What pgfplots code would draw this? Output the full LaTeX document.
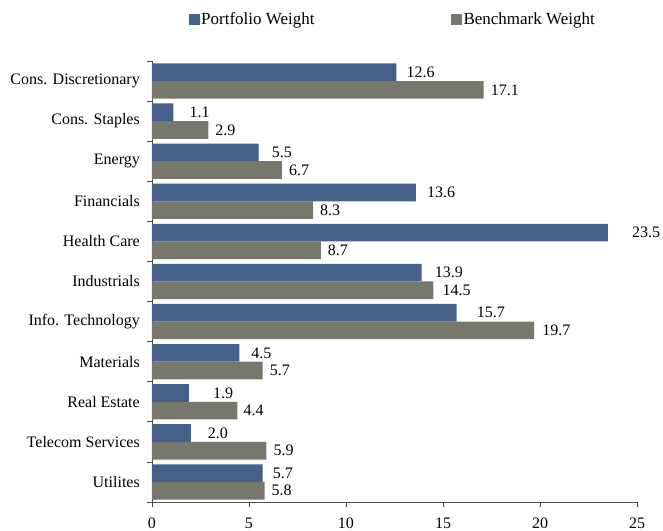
\documentclass[border=0pt]{standalone}
\usepackage{fontspec}
\setmainfont{Liberation Serif}
\usepackage{pgfplots}
\usepackage{pgfplotstable}
\pgfplotsset{compat=1.18}

\definecolor{portblue}{RGB}{68,97,138}
\definecolor{benchgray}{RGB}{119,119,107}

% y: category position (top = 10); poff/boff: label gap in bp
\pgfplotstableread{
y  port poff bench boff
10 12.6 10   17.1  7
9  1.1  16   2.9   7
8  5.5  13   6.7   7
7  13.6 11   8.3   7
6  23.5 24   8.7   7
5  13.9 13   14.5  9
4  15.7 20   19.7  8
3  4.5  12   5.7   7
2  1.9  24   4.4   6
1  2.0  17   5.9   7
0  5.7  10   5.8   7
}\weights

\begin{document}
\fontsize{16bp}{19bp}\selectfont
\begin{tikzpicture}
\begin{axis}[
  name=main,
  at={(0,0)}, anchor=south west,
  scale only axis,
  width=485bp, height=441bp,
  xmin=0, xmax=25,
  ymin=-0.5, ymax=10.5,
  xtick={0,5,...,25},
  ytick={-0.5,0.5,...,10.5},
  y tick label as interval,
  yticklabels={Utilites,Telecom Services,Real Estate,Materials,Info. Technology,Industrials,Health Care,Financials,Energy,Cons. Staples,Cons. Discretionary},
  axis lines*=left,
  axis line style={line width=0.8bp, draw=black!70},
  tick align=outside,
  major tick length=5bp,
  tick style={line width=0.8bp, draw=black!70},
  font=\rmfamily\fontsize{16bp}{19bp}\selectfont,
  /pgf/number format/assume math mode=true,
  xticklabel style={inner sep=0pt, yshift=-11bp},
  yticklabel style={inner sep=0pt, xshift=-7bp},
  clip=false,
  xbar, bar width=0.44,
  point meta=x,
  nodes near coords={\pgfmathprintnumber[fixed,fixed zerofill,precision=1]{\pgfplotspointmeta}},
  legend columns=2,
  legend style={at={(0.5,1)}, anchor=center, yshift=41.5bp, xshift=-2bp, draw=none, fill=none,
    font=\rmfamily\fontsize{17bp}{20bp}\selectfont,
    nodes={inner sep=1.5bp},
    /tikz/every even column/.append style={column sep=135bp}},
  legend image code/.code={\fill[#1] (0bp,-5.5bp) rectangle (11bp,5.5bp);},
]
\addplot[fill=portblue, draw=none, bar shift=0.22,
  visualization depends on={\thisrow{poff}\as\off},
  every node near coord/.append style={anchor=west, inner sep=0pt, xshift=\off bp}]
  table[x=port, y=y] {\weights};
\addplot[fill=benchgray, draw=none, bar shift=-0.22,
  visualization depends on={\thisrow{boff}\as\off},
  every node near coord/.append style={anchor=west, inner sep=0pt, xshift=\off bp}]
  table[x=bench, y=y] {\weights};
\legend{Portfolio Weight, Benchmark Weight}
\end{axis}
\pgfresetboundingbox
\path[use as bounding box] (-152bp,-29bp) rectangle (511bp,502bp);
\end{tikzpicture}
\end{document}
